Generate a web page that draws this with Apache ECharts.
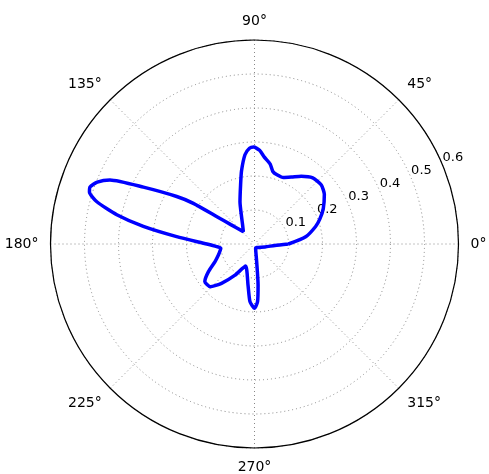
<!DOCTYPE html>
<html>
<head>
<meta charset="utf-8">
<script src="https://cdn.jsdelivr.net/npm/echarts@6/dist/echarts.min.js"></script>
<style>
  html, body { margin: 0; padding: 0; background: #fff; }
  #chart { width: 489px; height: 474px; }
</style>
</head>
<body>
<div id="chart"></div>
<script>
// angles in degrees (counter-clockwise from the right), radius
var angles = [0, 8, 16, 21, 27.4, 35.4, 41.4, 48.6, 55.4, 61, 66.5, 72, 75.8, 79, 83.7, 86.9, 90.5, 93, 96.1, 100.1, 103.3, 109, 116, 122,
  132, 140.7, 143.8, 146.4, 148.6, 152.9, 156.1, 158.5, 160.9, 162.5, 165, 168, 171, 174.6, 180,
  184, 187, 190, 197, 204, 211, 217, 224, 230, 238, 248, 261, 265.5, 270, 273, 275, 277,
  285, 302, 344, 356, 360];
var radii = [0.100, 0.152, 0.187, 0.206, 0.228, 0.252, 0.262, 0.259, 0.242, 0.225, 0.213, 0.214, 0.220, 0.240, 0.258, 0.276, 0.285, 0.282, 0.264, 0.218, 0.178, 0.131, 0.086, 0.066,
  0.049, 0.090, 0.132, 0.216, 0.268, 0.367, 0.465, 0.497, 0.512, 0.509, 0.480, 0.414, 0.331, 0.230, 0.140,
  0.111, 0.100, 0.102, 0.111, 0.127, 0.158, 0.183, 0.181, 0.151, 0.108, 0.070, 0.122, 0.170, 0.189, 0.170, 0.121, 0.052,
  0.013, 0.012, 0.032, 0.060, 0.100];
var angleTicks = [0, 45, 90, 135, 180, 225, 270, 315];
var radiusTicks = [0.1, 0.2, 0.3, 0.4, 0.5, 0.6];

var points = [];
for (var i = 0; i < angles.length; i++) {
  points.push([radii[i], angles[i]]);
}

var chart = echarts.init(document.getElementById('chart'));
var font = 'DejaVu Sans';

chart.setOption({
  backgroundColor: '#ffffff',
  animation: false,
  polar: [
    { center: [254.5, 244], radius: 204 },
    { center: [254.5, 244], radius: 204 }
  ],
  angleAxis: [
    {
      polarIndex: 0,
      type: 'value',
      min: 0,
      max: 360,
      interval: 45,
      startAngle: 0,
      clockwise: false,
      axisLine: { lineStyle: { color: '#000', width: 1.2 } },
      axisTick: { show: false },
      axisLabel: {
        margin: 12,
        color: '#000',
        fontFamily: font,
        fontSize: 14,
        formatter: function (v) {
          return angleTicks.indexOf(v) >= 0 ? v + '°' : '';
        }
      },
      splitLine: { show: true, lineStyle: { color: '#888', width: 1, type: [1, 3] } }
    },
    {
      // only carries the radius labels, drawn along 22.5°
      polarIndex: 1,
      type: 'value',
      min: 0,
      max: 360,
      startAngle: 22.5,
      clockwise: false,
      show: false
    }
  ],
  radiusAxis: [
    {
      polarIndex: 0,
      type: 'value',
      min: 0,
      max: 0.6,
      interval: 0.1,
      axisLine: { show: false },
      axisTick: { show: false },
      axisLabel: { show: false },
      splitLine: { show: true, lineStyle: { color: '#888', width: 1, type: [1, 3] } }
    },
    {
      polarIndex: 1,
      type: 'value',
      min: 0,
      max: 0.6,
      interval: 0.1,
      axisLine: { show: false },
      axisTick: { show: false },
      splitLine: { show: false },
      axisLabel: {
        margin: 9,
        align: 'left',
        verticalAlign: 'middle',
        padding: [0, 0, 0, 3],
        color: '#000',
        fontFamily: font,
        fontSize: 13,
        formatter: function (v) {
          var s = Math.round(v * 10) / 10;
          return radiusTicks.indexOf(s) >= 0 ? String(s) : '';
        }
      }
    }
  ],
  series: [
    {
      type: 'line',
      coordinateSystem: 'polar',
      polarIndex: 0,
      data: points,
      showSymbol: false,
      smooth: 0.2,
      lineStyle: { color: '#0000ff', width: 3.5 }
    }
  ]
});
</script>
</body>
</html>
